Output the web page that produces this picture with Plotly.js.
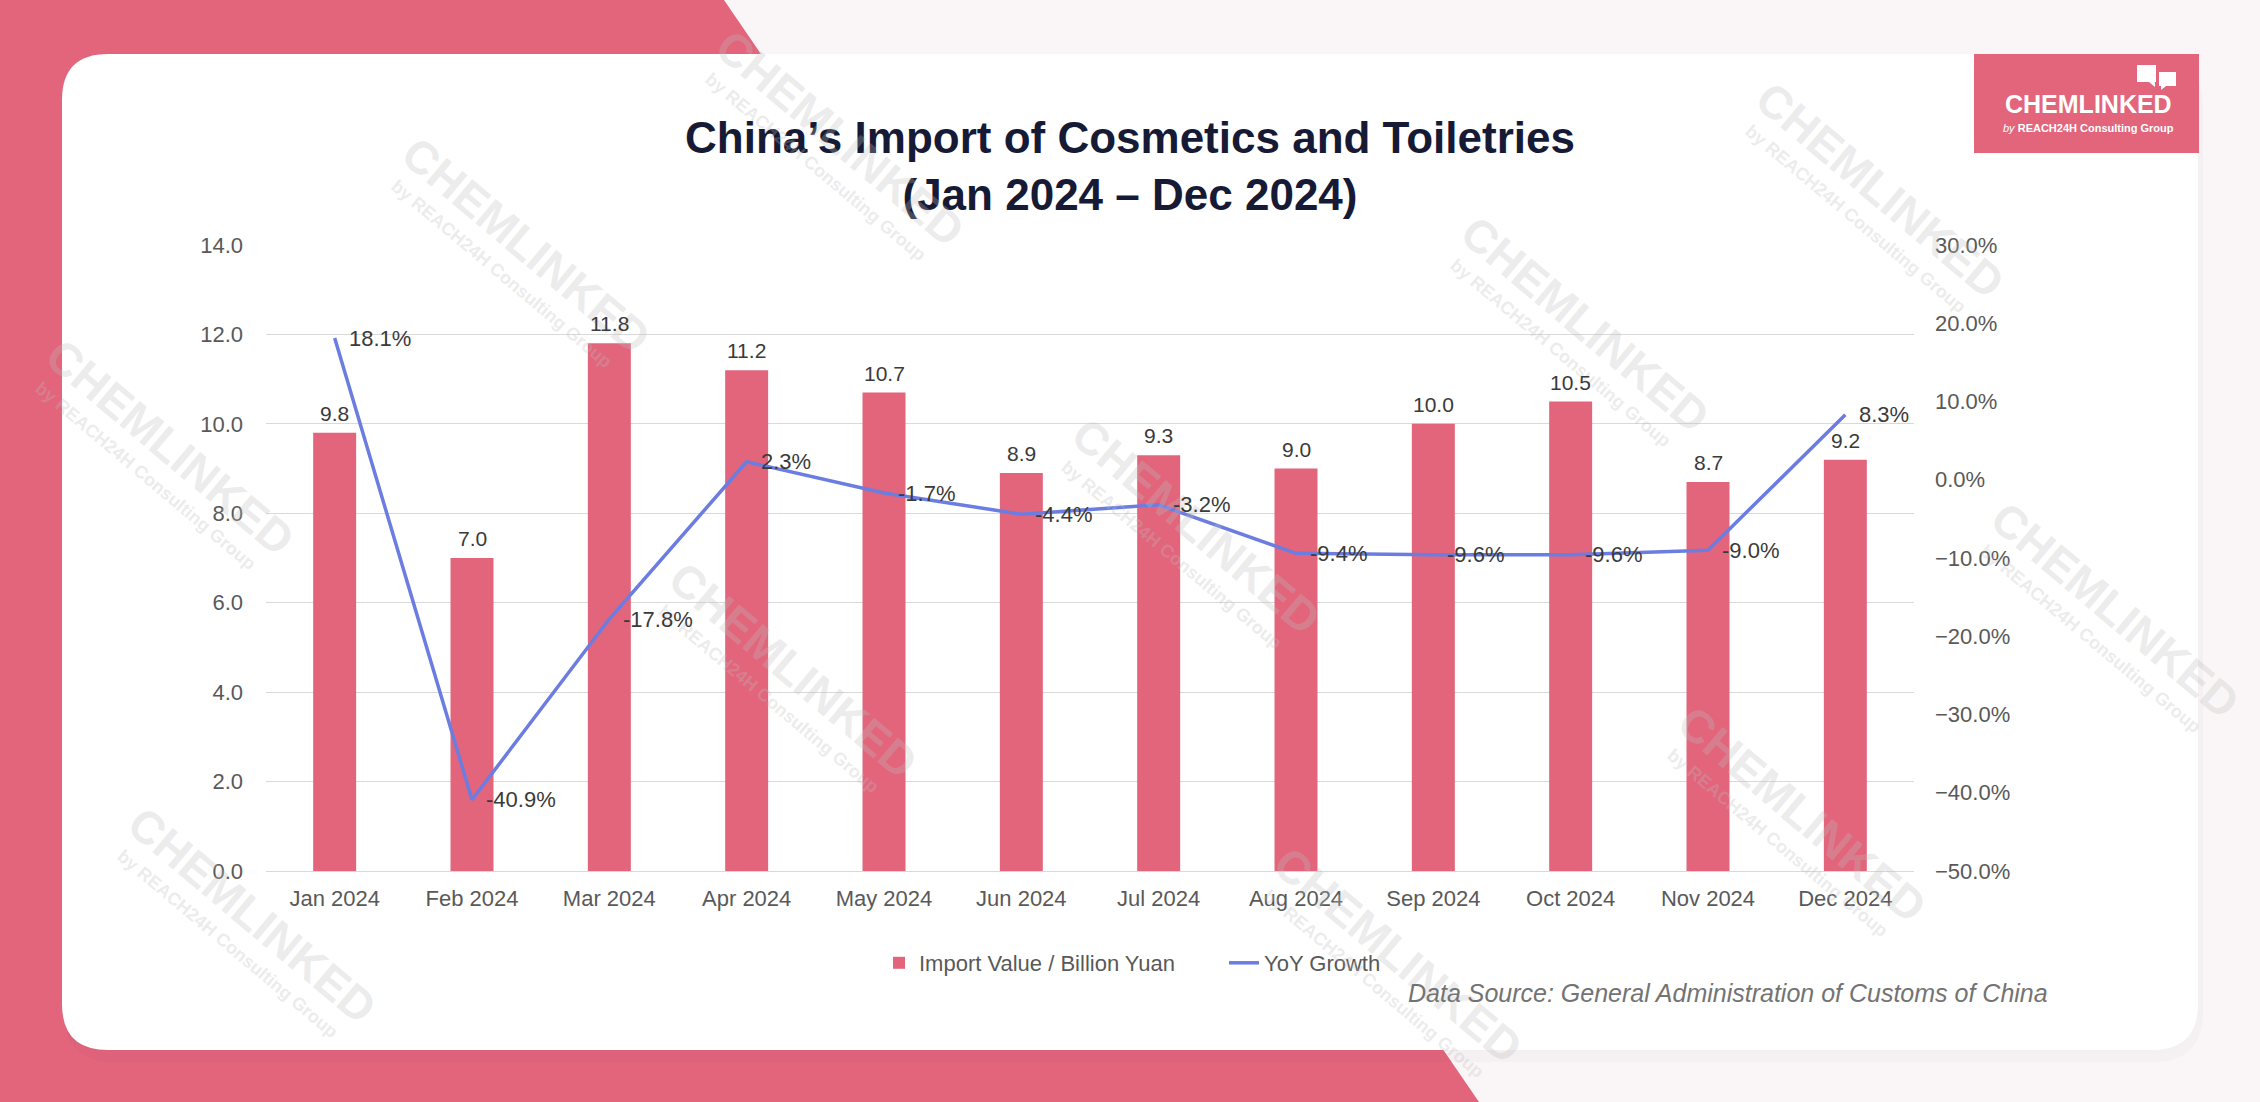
<!DOCTYPE html>
<html>
<head>
<meta charset="utf-8">
<script src="https://cdn.plot.ly/plotly-3.0.1.min.js"></script>
<style>
html,body{margin:0;padding:0;background:#faf6f7;}
#chart{width:2260px;height:1102px;}
</style>
</head>
<body>
<div id="chart"></div>
<script>
// ---- data ----
const months = ['Jan 2024','Feb 2024','Mar 2024','Apr 2024','May 2024','Jun 2024','Jul 2024','Aug 2024','Sep 2024','Oct 2024','Nov 2024','Dec 2024'];
const importValue = [9.8, 7.0, 11.8, 11.2, 10.7, 8.9, 9.3, 9.0, 10.0, 10.5, 8.7, 9.2];
const yoyGrowth = [18.1, -40.9, -17.8, 2.3, -1.7, -4.4, -3.2, -9.4, -9.6, -9.6, -9.0, 8.3];
const seriesNames = ['Import Value / Billion Yuan', 'YoY Growth'];
const titleText = 'China’s Import of Cosmetics and Toiletries<br>(Jan 2024 – Dec 2024)';
const sourceText = 'Data Source: General Administration of Customs of China';

// ---- layout geometry (pixels) ----
const W = 2260, H = 1102;
const M = {l: 266, r: 346, t: 245, b: 231};
const PW = W - M.l - M.r, PH = H - M.t - M.b;
const X = px => (px - M.l) / PW;
const Y = py => (H - M.b - py) / PH;

const PINK = '#e2657c';
const BLUE = '#6b7de0';
const FONT = 'Liberation Sans, Arial, Helvetica, sans-serif';

function pathOf(points) {
  return 'M ' + points.map(p => X(p[0]) + ',' + Y(p[1])).join(' L ') + ' Z';
}
function roundRectPath(l, t, r, b, rad) {
  const P = (x, y) => X(x) + ',' + Y(y);
  return 'M ' + P(l + rad, t) + ' L ' + P(r - rad, t) + ' Q ' + P(r, t) + ' ' + P(r, t + rad) +
    ' L ' + P(r, b - rad) + ' Q ' + P(r, b) + ' ' + P(r - rad, b) +
    ' L ' + P(l + rad, b) + ' Q ' + P(l, b) + ' ' + P(l, b - rad) +
    ' L ' + P(l, t + rad) + ' Q ' + P(l, t) + ' ' + P(l + rad, t) + ' Z';
}

const shapes = [
  // pink background band
  {type: 'path', xref: 'paper', yref: 'paper', layer: 'below', path: pathOf([[0,0],[724,0],[1479,1102],[0,1102]]), fillcolor: PINK, line: {width: 0}},
  // card shadow
  {type: 'path', xref: 'paper', yref: 'paper', layer: 'below', path: roundRectPath(64, 58, 2203, 1062, 50), fillcolor: 'rgba(60,20,40,0.025)', line: {width: 0}},
  // white card
  {type: 'path', xref: 'paper', yref: 'paper', layer: 'below', path: roundRectPath(62, 54, 2198, 1050, 46), fillcolor: '#ffffff', line: {width: 0}},
  // logo block
  {type: 'rect', xref: 'paper', yref: 'paper', layer: 'above', x0: X(1974), x1: X(2199), y0: Y(153), y1: Y(54), fillcolor: PINK, line: {width: 0}},
  {type: 'rect', xref: 'paper', yref: 'paper', layer: 'above', x0: X(2137), x1: X(2156), y0: Y(82), y1: Y(65), fillcolor: '#ffffff', line: {width: 0}},
  {type: 'path', xref: 'paper', yref: 'paper', layer: 'above', path: pathOf([[2149,82],[2155,82],[2155,87]]), fillcolor: '#ffffff', line: {width: 0}},
  {type: 'rect', xref: 'paper', yref: 'paper', layer: 'above', x0: X(2159), x1: X(2176), y0: Y(86), y1: Y(72), fillcolor: '#ffffff', line: {width: 0}},
  {type: 'path', xref: 'paper', yref: 'paper', layer: 'above', path: pathOf([[2161,86],[2166,86],[2161,90]]), fillcolor: '#ffffff', line: {width: 0}}
];

const annotations = [];
// watermarks (decorative, drawn first so data labels sit on top)
const wmCenters = [[840,138],[526,245],[1585,324],[1880,190],[170,447],[793,670],[1196,526],[1802,814],[2115,610],[252,915],[1398,955]];
const ang = 40, s = Math.sin(ang*Math.PI/180), c = Math.cos(ang*Math.PI/180);
wmCenters.forEach(p => {
  annotations.push({xref: 'paper', yref: 'paper', x: X(p[0]), y: Y(p[1]), xanchor: 'center', yanchor: 'middle',
    text: '<b>CHEMLINKED</b>', textangle: ang, showarrow: false, font: {family: FONT, size: 46, color: 'rgba(190,190,190,0.30)'}});
  annotations.push({xref: 'paper', yref: 'paper', x: X(p[0] - 38*s), y: Y(p[1] + 38*c), xanchor: 'center', yanchor: 'middle',
    text: '<b>by REACH24H Consulting Group</b>', textangle: ang, showarrow: false, font: {family: FONT, size: 18, color: 'rgba(190,190,190,0.30)'}});
});
// bar value labels
months.forEach((m, i) => {
  annotations.push({x: m, y: importValue[i], xref: 'x', yref: 'y', text: importValue[i].toFixed(1),
    showarrow: false, yanchor: 'bottom', yshift: 6, font: {family: FONT, size: 21, color: '#3a3a3a'}});
});
// growth labels
months.forEach((m, i) => {
  annotations.push({x: m, y: yoyGrowth[i], xref: 'x', yref: 'y2', text: yoyGrowth[i].toFixed(1) + '%',
    showarrow: false, xanchor: 'left', yanchor: 'middle', xshift: 12, font: {family: FONT, size: 22, color: '#3a3a3a'}});
});
// source
annotations.push({xref: 'paper', yref: 'paper', x: X(2050), y: Y(993), xanchor: 'right', yanchor: 'middle',
  text: sourceText, showarrow: false, font: {family: FONT, size: 25, color: '#737373', style: 'italic'}});
// logo text
annotations.push({xref: 'paper', yref: 'paper', x: X(2088), y: Y(104), xanchor: 'center', yanchor: 'middle',
  text: '<b>CHEMLINKED</b>', showarrow: false, font: {family: FONT, size: 25, color: '#ffffff'}});
annotations.push({xref: 'paper', yref: 'paper', x: X(2088), y: Y(128), xanchor: 'center', yanchor: 'middle',
  text: '<i>by</i> <b>REACH24H Consulting Group</b>', showarrow: false, font: {family: FONT, size: 11, color: '#ffffff'}});

const traces = [
  {type: 'bar', name: seriesNames[0], x: months, y: importValue, marker: {color: PINK}, yaxis: 'y', hoverinfo: 'skip'},
  {type: 'scatter', mode: 'lines', name: seriesNames[1], x: months, y: yoyGrowth, yaxis: 'y2', line: {color: BLUE, width: 3.5}, hoverinfo: 'skip'}
];

const layout = {
  width: W, height: H,
  paper_bgcolor: '#faf6f7',
  plot_bgcolor: 'rgba(0,0,0,0)',
  margin: M,
  font: {family: FONT, size: 22, color: '#595959'},
  title: {text: titleText, x: 0.5, xanchor: 'center', y: 1 - 153/H, yanchor: 'middle',
    font: {family: FONT, size: 44, color: '#161a35', weight: 'bold'}},
  bargap: 0.687,
  showlegend: true,
  legend: {orientation: 'h', x: X(1224), xanchor: 'center', y: Y(963), yanchor: 'middle',
    font: {family: FONT, size: 22, color: '#595959'}, bgcolor: 'rgba(0,0,0,0)', entrywidth: 300, entrywidthmode: 'pixels'},
  xaxis: {type: 'category', showgrid: false, showline: false, zeroline: false, ticks: '',
    tickfont: {family: FONT, size: 22, color: '#595959'}, ticklabelstandoff: 12},
  yaxis: {range: [0, 14], dtick: 2, tickformat: '.1f', showgrid: true, gridcolor: '#d9d9d9', gridwidth: 1,
    zeroline: true, zerolinecolor: '#d9d9d9', zerolinewidth: 1, showline: false, ticks: '',
    tickfont: {family: FONT, size: 22, color: '#595959'}, ticklabelstandoff: 22},
  yaxis2: {range: [-50, 30], dtick: 10, tickformat: '.1f', ticksuffix: '%', overlaying: 'y', side: 'right',
    showgrid: false, zeroline: false, showline: false, ticks: '',
    tickfont: {family: FONT, size: 22, color: '#595959'}, ticklabelstandoff: 20},
  shapes: shapes,
  annotations: annotations
};

Plotly.newPlot('chart', traces, layout, {staticPlot: true, displayModeBar: false});
</script>
</body>
</html>
